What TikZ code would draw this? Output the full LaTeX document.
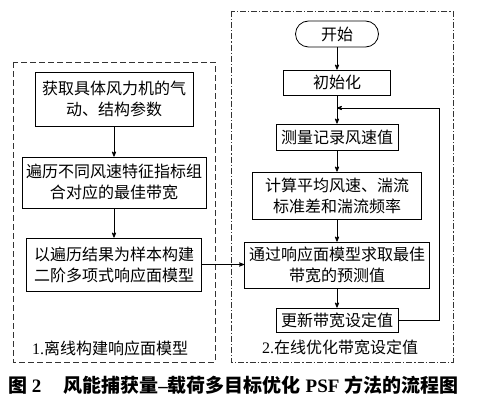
\documentclass[tikz,border=0pt]{standalone}
\usepackage{fontspec}
\setmainfont{Liberation Serif}
\newfontfamily\cjk{Noto Sans CJK SC}
\usetikzlibrary{arrows,positioning}

\begin{document}
\begin{tikzpicture}[x=1pt,y=-1pt,>=stealth',auto]
  \useasboundingbox (0,0) rectangle (484,401);
  \tikzset{
    procBox/.style={rectangle,draw=black,line width=0.8pt,inner sep=0pt,align=center,
      font={\cjk\fontsize{16}{21}\selectfont}},
    startBox/.style={procBox,rounded corners=13pt},
    flow/.style={->,line width=0.8pt},
    % frame styles
    offlineFrame/.style={draw=black!80,line width=0.8pt,dash pattern=on 6pt off 3pt},
    onlineFrame/.style={draw=black!80,line width=0.8pt,dash pattern=on 6pt off 2pt on 1.2pt off 2pt},
    frameLabel/.style={font={\fontsize{16}{20}\selectfont}},
    captionText/.style={font={\bfseries\fontsize{19}{22}\selectfont},inner sep=0pt}
  }

  % Frames
  \draw [offlineFrame] (13,62) rectangle (215,362);
  \draw [onlineFrame] (231,11) rectangle (453,362);

  % Offline part
  \node [procBox,minimum width=158pt,minimum height=54pt] (params) at (114,99)
    {获取具体风力机的气\\动、结构参数};
  \node [procBox,minimum width=184pt,minimum height=51pt] (sweep) at (114,182.5)
    {遍历不同风速特征指标组\\合对应的最佳带宽};
  \node [procBox,minimum width=175pt,minimum height=53pt] (rsm) at (114,264.5)
    {以遍历结果为样本构建\\二阶多项式响应面模型};
  \node [frameLabel] (offLabel) at (110,348) {1.{\cjk 离线构建响应面模型}};

  % Online part
  \node [startBox,minimum width=83pt,minimum height=26pt] (start) at (337,34) {开始};
  \node [procBox,minimum width=107pt,minimum height=25pt] (init) at (337,82.5) {初始化};
  \node [procBox,minimum width=122pt,minimum height=26pt] (measure) at (337,137) {测量记录风速值};
  \node [procBox,minimum width=169pt,minimum height=47pt] (stats) at (337,195.5)
    {计算平均风速、湍流\\标准差和湍流频率};
  \node [procBox,minimum width=185pt,minimum height=46pt] (predict) at (337,265)
    {通过响应面模型求取最佳\\带宽的预测值};
  \node [procBox,minimum width=122pt,minimum height=24pt] (update) at (337,320) {更新带宽设定值};
  \node [frameLabel] (onLabel) at (340,347) {2.{\cjk 在线优化带宽设定值}};

  \coordinate (loopIn) at (337,108);
  \coordinate (loopCorner) at (439,108);

  % Connectors
  \draw [flow] (params) -- (sweep);
  \draw [flow] (sweep) -- (rsm);
  \draw [flow] (rsm.east) -- (rsm.east -| predict.west);
  \draw [flow] (start) -- (init);
  \draw [flow] (init) -- (measure);
  \draw [flow] (measure) -- (stats);
  \draw [flow] (stats) -- (predict);
  \draw [flow] (predict) -- (update);
  \draw [flow] (update.east) -| (loopCorner) -- (loopIn);

  % Caption
  \node [captionText,anchor=west] (caption) at (8,385)
    {{\cjk 图} 2\hspace{22pt}{\cjk 风能捕获量}–{\cjk 载荷多目标优化} PSF {\cjk 方法的流程图}};
\end{tikzpicture}
\end{document}
